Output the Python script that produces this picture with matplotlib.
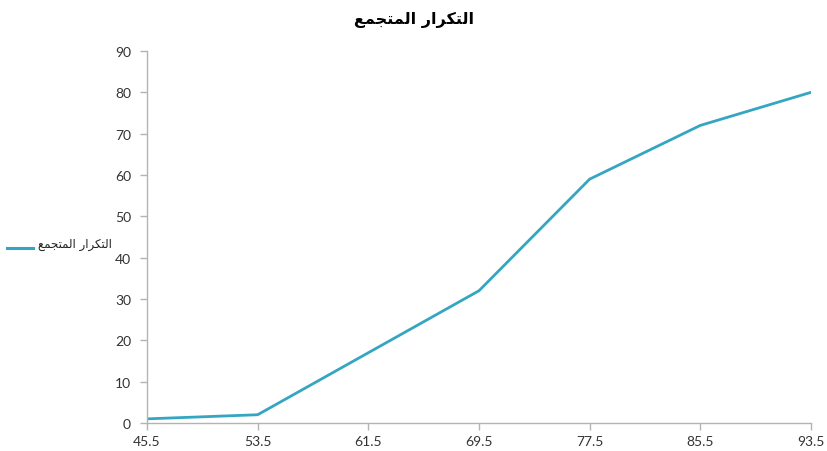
import matplotlib
matplotlib.use("Agg")
import matplotlib.pyplot as plt

categories = ["45.5", "53.5", "61.5", "69.5", "77.5", "85.5", "93.5"]
values = [1, 2, 17, 32, 59, 72, 80]
yticks = [0, 10, 20, 30, 40, 50, 60, 70, 80, 90]

# Arabic text in presentation forms, visual (left-to-right) order: "التكرار المتجمع"
word2 = "\uFECA\uFEE4\uFEA0\uFE98\uFEE4\uFEDF\uFE8D"
word1 = "\uFEAD\uFE8D\uFEAE\uFEDC\uFE98\uFEDF\uFE8D"
title_text = word2 + " " + word1
series_name = title_text

color = "#35a6c2"
grey = "#b3b3b3"

fig = plt.figure(figsize=(8.27, 4.52), dpi=100)
ax = fig.add_axes([147/827, 1 - 424/452, (811 - 147)/827, (424 - 52)/452])

x = list(range(len(categories)))
line, = ax.plot(x, values, color=color, lw=2.0, solid_joinstyle="miter")

ax.set_xlim(0, len(categories) - 1)
ax.set_ylim(0, 90)
ax.set_xticks(x)
ax.set_xticklabels(categories, fontfamily=["Lato", "DejaVu Sans"], fontsize=10, color="#333333")
ax.set_yticks(yticks)
ax.set_yticklabels([str(v) for v in yticks], fontfamily=["Lato", "DejaVu Sans"], fontsize=10, color="#333333")

for s in ["top", "right"]:
    ax.spines[s].set_visible(False)
for s in ["left", "bottom"]:
    ax.spines[s].set_color(grey)
    ax.spines[s].set_linewidth(1.0)
ax.tick_params(axis="both", color=grey, length=5, width=1, direction="out")
ax.tick_params(axis="y", pad=6.5)
ax.tick_params(axis="x", pad=4)

fig.text(0.5, 1 - 20/452, title_text, ha="center", va="center",
         fontsize=11.5, fontweight="bold", family=["DejaVu Sans"])

# legend on the left
fig.add_artist(plt.Line2D([7/827, 33/827], [1 - 249/452, 1 - 249/452],
                          color=color, lw=2.2, transform=fig.transFigure))
fig.text(38/827, 1 - 245/452, series_name, ha="left", va="center",
         fontsize=8.5, family=["DejaVu Sans"], color="#222222")

fig.savefig("out.png", dpi=100)
